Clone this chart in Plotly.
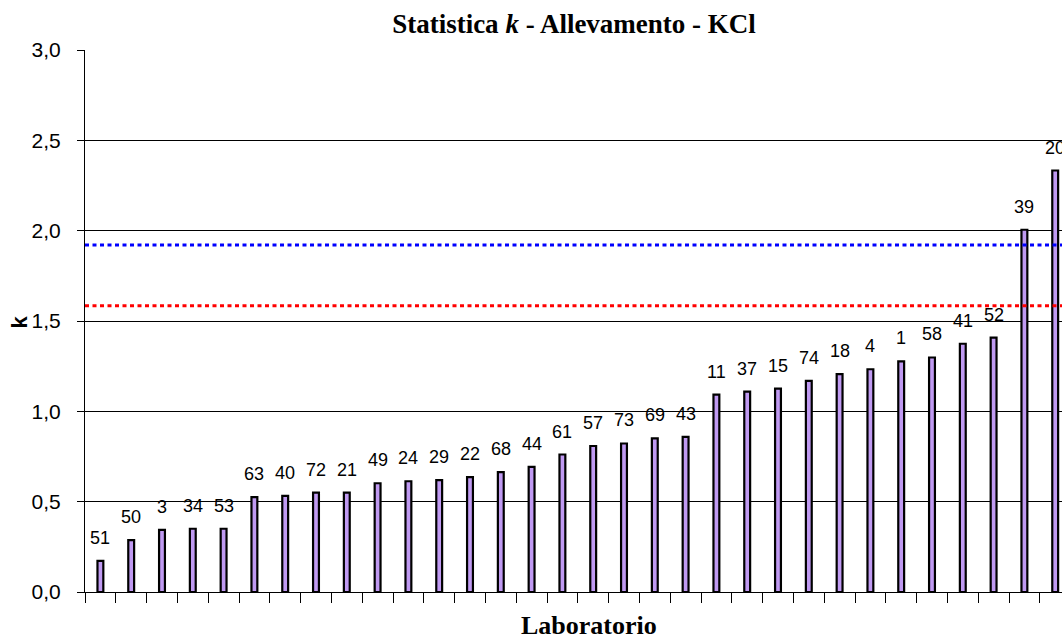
import plotly.graph_objects as go

# laboratori ordinati per k crescente
labs = ["51", "50", "3", "34", "53", "63", "40", "72", "21", "49", "24", "29", "22", "68", "44", "61",
        "57", "73", "69", "43", "11", "37", "15", "74", "18", "4", "1", "58", "41", "52", "39", "20"]
k_values = [0.172, 0.287, 0.344, 0.35, 0.35, 0.525, 0.532, 0.55, 0.55, 0.602, 0.613, 0.619, 0.636, 0.663,
            0.693, 0.761, 0.808, 0.822, 0.85, 0.859, 1.093, 1.109, 1.126, 1.169, 1.206, 1.233, 1.276,
            1.298, 1.374, 1.408, 2.005, 2.333]

# valori critici di k
k_crit_1 = 1.92
k_crit_5 = 1.585

W, H = 1062, 637
left, top, bottom = 85, 50, 45
slot = 30.8
x_max = -0.5 + (W - left) / slot

fig = go.Figure()
fig.add_trace(go.Bar(x=labs, y=k_values, width=0.19,
                     marker=dict(color="#c09af2", line=dict(color="black", width=2.2)),
                     hoverinfo="x+y"))

# linee critiche
fig.add_shape(type="line", xref="paper", x0=0, x1=1, yref="y", y0=k_crit_1, y1=k_crit_1,
              line=dict(color="#0000ff", width=3, dash="4px,3.5px"))
fig.add_shape(type="line", xref="paper", x0=0, x1=1, yref="y", y0=k_crit_5, y1=k_crit_5,
              line=dict(color="#ff0000", width=3, dash="4px,3.5px"))

# etichette sopra le barre (x = indice della categoria)
for i, (lab, v) in enumerate(zip(labs, k_values)):
    fig.add_annotation(x=i, y=v, text=lab, showarrow=False, yanchor="bottom", yshift=11,
                       font=dict(family="Liberation Sans, Arial", size=18, color="black"))

# titoli assi
fig.add_annotation(xref="paper", yref="paper", x=(589 - left) / (W - left), y=0, yshift=-33,
                   text="<b>Laboratorio</b>", showarrow=False, yanchor="middle",
                   font=dict(family="Liberation Serif, Times New Roman", size=26, color="black"))
fig.add_annotation(xref="paper", yref="paper", x=(19.5 - left) / (W - left), y=0.498,
                   text="<b>k</b>", showarrow=False, textangle=-90, xanchor="center",
                   font=dict(family="Liberation Sans, Arial", size=22, color="black"))

fig.update_layout(
    width=W, height=H,
    margin=dict(l=left, r=0, t=top, b=bottom),
    paper_bgcolor="white", plot_bgcolor="white",
    separators=",.",
    showlegend=False,
    title=dict(text="<b>Statistica <i>k</i> - Allevamento - KCl</b>",
               x=574 / W, xanchor="center", xref="container",
               y=1 - 24 / H, yanchor="middle", yref="container",
               font=dict(family="Liberation Serif, Times New Roman", size=27, color="black")),
)
fig.update_xaxes(type="category", range=[-0.5, x_max], showticklabels=False,
                 ticks="outside", tickson="boundaries", ticklen=10, tickcolor="black",
                 showline=True, linecolor="black", linewidth=1, showgrid=False, zeroline=False)
fig.update_yaxes(range=[0, 3], dtick=0.5, tickformat=".1f", ticks="outside", ticklen=7,
                 tickcolor="black", showline=True, linecolor="black", linewidth=1,
                 showgrid=True, gridcolor="black", gridwidth=1, zeroline=False,
                 ticklabelstandoff=12,
                 tickfont=dict(family="Liberation Sans, Arial", size=21, color="black"))

fig.write_html("out.html", config={"displayModeBar": False},
               post_script="document.body.style.margin='0';document.body.style.overflow='hidden';")
